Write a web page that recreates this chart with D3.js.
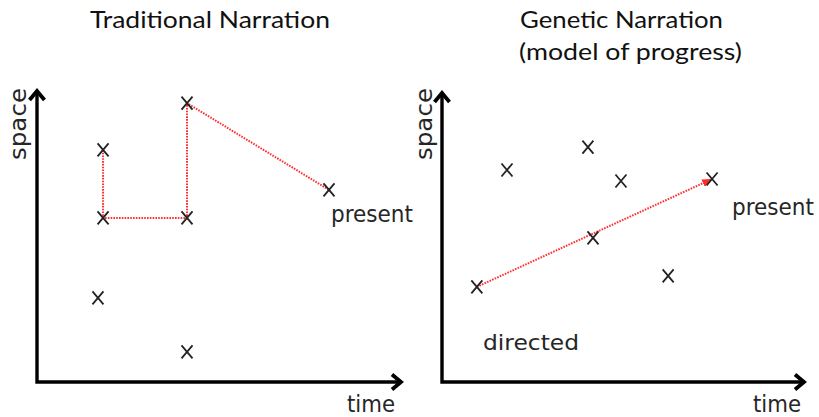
<!DOCTYPE html>
<html><head><meta charset="utf-8">
<script src="https://cdn.jsdelivr.net/npm/d3@7"></script>
<style>body{margin:0;background:#fff}svg{display:block}</style>
</head><body>
<script>
// Data (abstract units 0-100 on both axes)
const titles = ["Traditional Narration", "Genetic Narration", "(model of progress)"];
const axisLabels = ["time", "space"];
const leftTime  = [18.1, 18.1, 41.1, 41.1, 80.0, 16.7, 41.1];
const leftSpace = [79.5, 56.2, 56.2, 95.5, 65.8, 28.8, 10.3];
const leftPathOrder = [0, 1, 2, 3, 4];
const rightTime  = [9.6, 17.9, 40.2, 49.3, 41.6, 62.3, 74.4];
const rightSpace = [32.8, 73.1, 81.0, 69.3, 49.7, 36.6, 70.0];
const rightPathOrder = [0, 6];
const annotations = ["present", "directed"];

const W = 819, H = 417;
const svg = d3.select("body").append("svg").attr("width", W).attr("height", H);
const defs = svg.append("defs");
defs.append("marker").attr("id", "redArrow").attr("viewBox", "0 0 10 10")
  .attr("refX", 10).attr("refY", 5).attr("markerWidth", 10).attr("markerHeight", 10)
  .attr("markerUnits", "userSpaceOnUse").attr("orient", "auto")
  .append("path").attr("d", "M0,1 L10,5 L0,9 Z").attr("fill", "#ff2a2a");

const labelFont = "DejaVu Sans";
const titleFont = "Lato";

function panel(cfg) {
  const x = d3.scaleLinear().domain([0, 100]).range([cfg.x0, cfg.x1]);
  const y = d3.scaleLinear().domain([0, 100]).range([cfg.y0, cfg.y1]);
  const g = svg.append("g");
  g.append("path").attr("d", `M${x(0)},${y(100)+2} L${x(0)},${y(0)} L${x(100)-2},${y(0)}`)
    .attr("fill", "none").attr("stroke", "#000").attr("stroke-width", 3.4).attr("stroke-linejoin", "miter");
  g.append("path").attr("d", `M${x(0)-7.5},${y(100)+10} L${x(0)},${y(100)+1} L${x(0)+7.5},${y(100)+10}`)
    .attr("fill", "none").attr("stroke", "#000").attr("stroke-width", 3.8).attr("stroke-linejoin", "miter");
  g.append("path").attr("d", `M${x(100)-10},${y(0)-7.5} L${x(100)-1},${y(0)} L${x(100)-10},${y(0)+7.5}`)
    .attr("fill", "none").attr("stroke", "#000").attr("stroke-width", 3.8).attr("stroke-linejoin", "miter");
  g.append("text").text(axisLabels[0]).attr("x", cfg.timeX).attr("y", 412)
    .attr("font-family", labelFont).attr("font-size", 23).attr("fill", "#262626")
    .attr("textLength", 48).attr("lengthAdjust", "spacingAndGlyphs");
  g.append("text").text(axisLabels[1])
    .attr("transform", `translate(${cfg.spaceX},${160}) rotate(-90)`)
    .attr("font-family", labelFont).attr("font-size", 23).attr("fill", "#262626")
    .attr("textLength", 72).attr("lengthAdjust", "spacingAndGlyphs");
  const line = d3.line().x(i => x(cfg.t[i])).y(i => y(cfg.s[i]));
  const p = g.append("path").attr("d", line(cfg.order)).attr("fill", "none")
    .attr("stroke", "#ff3030").attr("stroke-width", 2).attr("stroke-dasharray", "1.6,1.2");
  if (cfg.arrow) p.attr("marker-end", "url(#redArrow)");
  const idx = d3.range(cfg.t.length);
  g.selectAll("path.mk").data(idx).join("path").attr("class", "mk")
    .attr("d", i => { const cx = x(cfg.t[i]), cy = y(cfg.s[i]);
      return `M${cx-5.5},${cy-6.5} L${cx+5.5},${cy+6.5} M${cx+5.5},${cy-6.5} L${cx-5.5},${cy+6.5}`; })
    .attr("stroke", "#222").attr("stroke-width", 1.8).attr("fill", "none");
  return {x, y, g};
}

const L = panel({x0: 37, x1: 402, y0: 382, y1: 90, t: leftTime, s: leftSpace, order: leftPathOrder,
  arrow: false, timeX: 347, spaceX: 26});
const R = panel({x0: 442, x1: 805, y0: 382, y1: 92, t: rightTime, s: rightSpace, order: rightPathOrder,
  arrow: true, timeX: 753, spaceX: 432});

L.g.append("text").text(annotations[0]).attr("x", 331).attr("y", 222)
  .attr("font-family", labelFont).attr("font-size", 23).attr("fill", "#262626")
  .attr("textLength", 82).attr("lengthAdjust", "spacingAndGlyphs");
R.g.append("text").text(annotations[0]).attr("x", 732).attr("y", 215)
  .attr("font-family", labelFont).attr("font-size", 23).attr("fill", "#262626")
  .attr("textLength", 82).attr("lengthAdjust", "spacingAndGlyphs");
R.g.append("text").text(annotations[1]).attr("x", 483).attr("y", 350)
  .attr("font-family", labelFont).attr("font-size", 22).attr("fill", "#262626")
  .attr("textLength", 96).attr("lengthAdjust", "spacingAndGlyphs");

svg.append("text").text(titles[0]).attr("x", 90).attr("y", 28)
  .attr("font-family", titleFont).attr("font-size", 24).attr("fill", "#111")
  .attr("textLength", 240).attr("lengthAdjust", "spacingAndGlyphs");
svg.append("text").text(titles[1]).attr("x", 520).attr("y", 28)
  .attr("font-family", titleFont).attr("font-size", 24).attr("fill", "#111")
  .attr("textLength", 203).attr("lengthAdjust", "spacingAndGlyphs");
svg.append("text").text(titles[2]).attr("x", 519).attr("y", 60)
  .attr("font-family", titleFont).attr("font-size", 24).attr("fill", "#111")
  .attr("textLength", 223).attr("lengthAdjust", "spacingAndGlyphs");
</script>
</body></html>
